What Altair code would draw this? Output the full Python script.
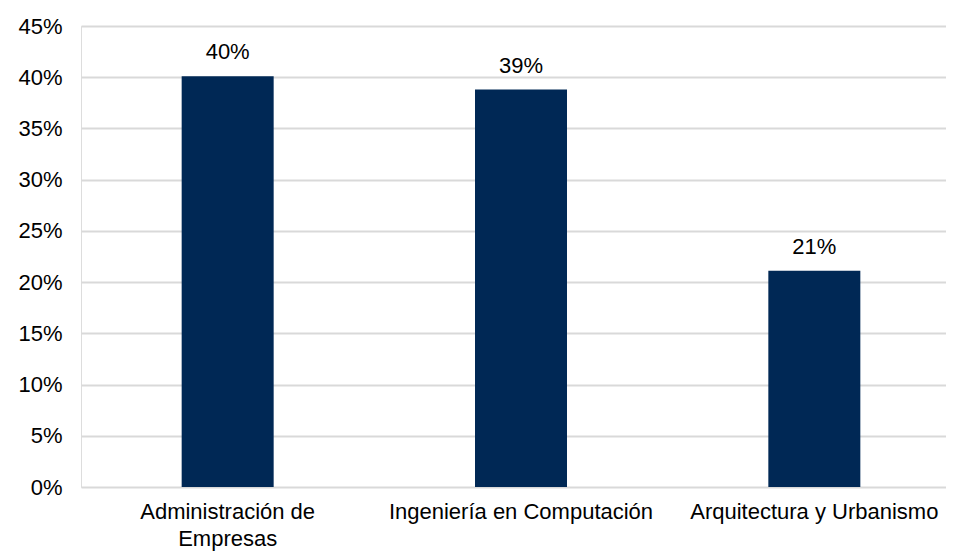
import altair as alt
import pandas as pd

categories = ["Administración de Empresas", "Ingeniería en Computación", "Arquitectura y Urbanismo"]
values = [0.401, 0.388, 0.211]
labels = ["40%", "39%", "21%"]
y_ticks = [0, 0.05, 0.10, 0.15, 0.20, 0.25, 0.30, 0.35, 0.40, 0.45]

df = pd.DataFrame({"cat": categories, "val": values, "lab": labels})

FONT = "Liberation Sans"
BAR = "#002855"
FS = 22

x_enc = alt.X(
    "cat:N",
    sort=categories,
    scale=alt.Scale(paddingInner=0, paddingOuter=0, range=[0, 880]),
    axis=alt.Axis(
        title=None, domain=False, ticks=False, grid=False, labelAngle=0,
        labelFont=FONT, labelFontSize=FS, labelColor="#000000",
        labelPadding=14, labelLineHeight=27, labelLimit=400,
        labelExpr="datum.label == 'Administración de Empresas' ? ['Administración de', 'Empresas'] : datum.label",
    ),
)
y_enc = alt.Y(
    "val:Q",
    scale=alt.Scale(domain=[0, 0.45], nice=False),
    axis=alt.Axis(
        title=None, domain=False, ticks=False, values=y_ticks, format=".0%",
        labelFont=FONT, labelFontSize=FS, labelColor="#000000", labelPadding=19,
        gridColor="#d9d9d9", gridWidth=2,
    ),
)

bars = alt.Chart(df).mark_bar(color=BAR, size=92).encode(x=x_enc, y=y_enc)
text = alt.Chart(df).mark_text(
    font=FONT, fontSize=FS, color="#000000", baseline="alphabetic", dy=-17
).encode(x=alt.X("cat:N", sort=categories), y="val:Q", text="lab:N")

chart = (
    alt.layer(bars, text)
    .properties(
        width=865, height=461,
        autosize=alt.AutoSizeParams(type="none"),
        padding={"left": 73, "top": 18, "right": 0, "bottom": 66},
    )
    .configure_view(stroke=None)
    .configure(background="#ffffff")
)

chart.save("out.html", embed_options={"renderer": "svg", "actions": False})
